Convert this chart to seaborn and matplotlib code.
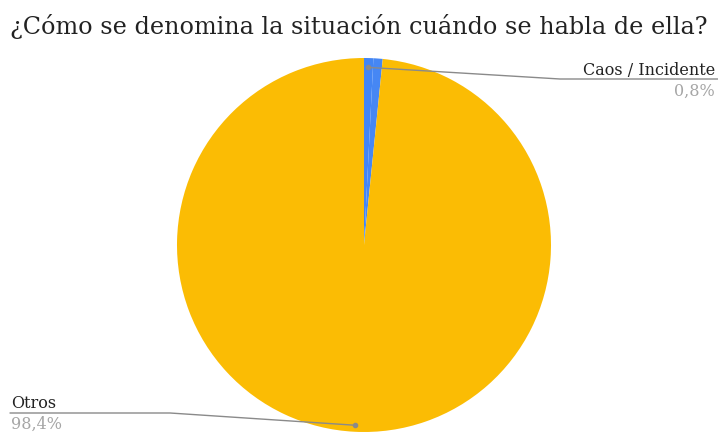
#!/usr/bin/env python3
#
# Pie chart: how the situation is named when it is talked about
#
import numpy as np
import matplotlib
matplotlib.use('Agg')
import matplotlib.pyplot as plt
import seaborn as sns

# Data
labels = ['Caos / Incidente', '', 'Otros']
values = [0.8, 0.8, 98.4]
pct_labels = ['0,8%', '', '98,4%']
colors = ['#4285f4', '#4687f4', '#fbbc04']

sns.set_theme(style='white')
plt.rcParams['font.family'] = ['DejaVu Serif', 'Liberation Serif']

W, H = 718, 432
fig = plt.figure(figsize=(W / 100, H / 100), dpi=100)
ax = fig.add_axes([0, 0, 1, 1])

cx, cy, r = 364, 187, 187
wedges, _ = ax.pie(values, colors=colors, startangle=90, counterclock=False,
                   center=(cx, cy), radius=r, frame=True,
                   wedgeprops={'linewidth': 0})
ax.set_xlim(0, W)
ax.set_ylim(0, H)
ax.set_aspect('equal')
ax.axis('off')

line_col = '#8a8a8a'
grey = '#a6a6a6'

def anchor(w, frac=0.95):
    ang = np.deg2rad((w.theta1 + w.theta2) / 2)
    return cx + frac * r * np.cos(ang), cy + frac * r * np.sin(ang)

# Caos / Incidente label (right side)
ax0, ay0 = anchor(wedges[0])
ax.plot([ax0, 560, W], [ay0, H - 79, H - 79], color=line_col, lw=1)
ax.plot([ax0], [ay0], 'o', color=line_col, ms=3)
ax.text(W - 3, H - 75, labels[0], ha='right', va='baseline', fontsize=11.5,
        color='#222222')
ax.text(W - 3, H - 96, pct_labels[0], ha='right', va='baseline', fontsize=11.5,
        color=grey)

# Otros label (left side)
ax2, ay2 = anchor(wedges[2], 0.965)
ax.plot([ax2, 170, 10], [ay2, H - 413, H - 413], color=line_col, lw=1)
ax.plot([ax2], [ay2], 'o', color=line_col, ms=3)
ax.text(11, H - 408, labels[2], ha='left', va='baseline', fontsize=11.5,
        color='#222222')
ax.text(11, H - 429, pct_labels[2], ha='left', va='baseline', fontsize=11.5,
        color=grey)

# Title
fig.text(10, H - 34, '¿Cómo se denomina la situación cuándo se habla de ella?',
         transform=None, ha='left', va='baseline', fontsize=17.2, color='#222222')

fig.savefig('out.png', dpi=100)
